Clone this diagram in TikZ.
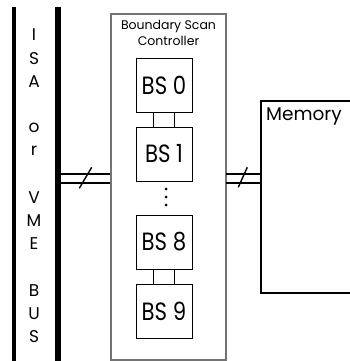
\documentclass[tikz,border=0pt]{standalone}
\usepackage{fontspec}
\setmainfont{Poppins}
\newfontfamily\bsfont[FakeStretch=0.85]{Poppins}
\begin{document}
\begin{tikzpicture}[x=1pt,y=-1pt,
  busletter/.style={inner sep=0pt,font=\fontsize{17}{17}\selectfont},
  bsbox/.style={draw,line width=0.9pt,minimum width=56pt,minimum height=54pt,inner sep=0pt,font=\bsfont\fontsize{25}{25}\selectfont},
  ctrlbox/.style={draw=black!55,line width=1.2pt,minimum width=115pt,minimum height=346pt,inner sep=0pt},
  link/.style={line width=0.9pt},
  wire/.style={line width=1.7pt},
  slash/.style={line width=1.4pt},
  membox/.style={line width=1.2pt}]
\useasboundingbox (0,0) rectangle (350,361);
% bus lines
\coordinate (b1t) at (14,7); \coordinate (b1b) at (14,365);
\coordinate (b2t) at (58,7); \coordinate (b2b) at (58,365);
\draw[line width=4.5pt] (b1t) -- (b1b);
\draw[line width=5.5pt] (b2t) -- (b2b);
% bus letters
\foreach \t/\k [count=\i] in {I/0,S/1,A/2,o/4,r/5,V/7,M/8,E/9,B/11,U/12,S/13}
  \node[busletter] (l\i) at (34,{35+23.2*\k}) {\t};
% controller
\node[ctrlbox] (ctrl) at (168.5,187) {};
\node[align=center,inner sep=0pt,font=\fontsize{12.5}{16.5}\selectfont] (title) at (168.5,33) {Boundary Scan\\Controller};
\node[bsbox] (bs0) at (164,85) {BS 0};
\node[bsbox] (bs1) at (164,154) {BS 1};
\node[bsbox] (bs8) at (164,242) {BS 8};
\node[bsbox] (bs9) at (164,311) {BS 9};
\foreach \a/\b in {bs0/bs1,bs8/bs9}{
  \draw[link] ([xshift=-10.5pt]\a.south) -- ([xshift=-10.5pt]\b.north);
  \draw[link] ([xshift=10.5pt]\a.south) -- ([xshift=10.5pt]\b.north);
}
\foreach \y [count=\i] in {189,197,205}
  \fill (166,\y) circle (1.5pt) coordinate (d\i);
% memory
\coordinate (m1) at (355,101); \coordinate (m2) at (261,101);
\coordinate (m3) at (261,293); \coordinate (m4) at (355,293);
\draw[membox] (m1) -- (m2) -- (m3) -- (m4);
\node[anchor=west,inner sep=0pt,font=\fontsize{18.5}{18.5}\selectfont] (memtxt) at (266,116) {Memory};
% wires
\coordinate (w1) at (60.75,174); \coordinate (w2) at (60.75,182.7);
\draw[wire] (w1) -- (w1 -| ctrl.west);
\draw[wire] (w2) -- (w2 -| ctrl.west);
\coordinate (w3) at (226,174); \coordinate (w4) at (226,182.7);
\draw[wire] (w3) -- (w3 -| m2);
\draw[wire] (w4) -- (w4 -| m2);
\coordinate (s1a) at (79.3,188.3); \coordinate (s1b) at (91.7,167.3);
\coordinate (s2a) at (238.3,187.3); \coordinate (s2b) at (247.3,167.3);
\draw[slash] (s1a) -- (s1b);
\draw[slash] (s2a) -- (s2b);
\end{tikzpicture}
\end{document}
